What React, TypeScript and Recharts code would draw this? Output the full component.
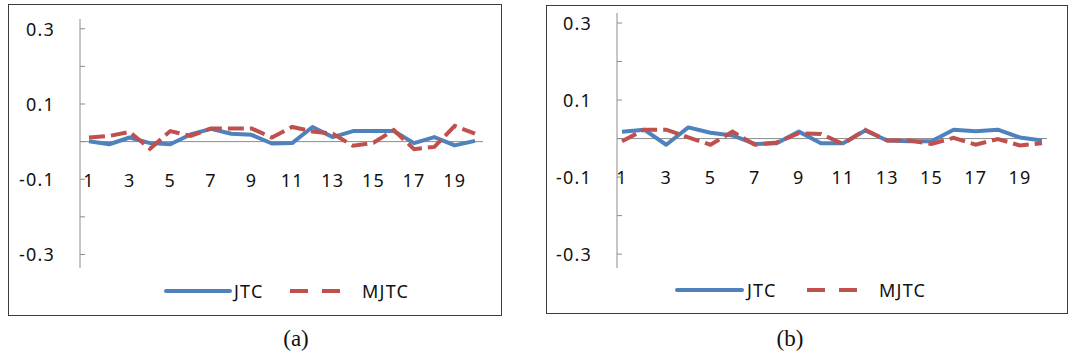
import {
  LineChart,
  Line,
  XAxis,
  YAxis,
  ReferenceLine,
  Legend,
} from "recharts";

// sample index along the x axis
const samples = [
  "1", "2", "3", "4", "5", "6", "7", "8", "9", "10",
  "11", "12", "13", "14", "15", "16", "17", "18", "19", "20",
];

// panel (a)
const jtcA = [
  0.001, -0.007, 0.011, -0.004, -0.007, 0.019, 0.034, 0.021, 0.018, -0.005,
  -0.004, 0.039, 0.012, 0.028, 0.028, 0.028, -0.004, 0.012, -0.01, 0.002,
];
const mjtcA = [
  0.011, 0.015, 0.026, -0.019, 0.028, 0.015, 0.035, 0.035, 0.035, 0.011,
  0.039, 0.027, 0.021, -0.011, -0.003, 0.031, -0.02, -0.014, 0.042, 0.021,
];

// panel (b)
const jtcB = [
  0.018, 0.023, -0.016, 0.029, 0.015, 0.008, -0.014, -0.012, 0.018, -0.012,
  -0.012, 0.021, -0.005, -0.007, -0.007, 0.023, 0.019, 0.023, 0.003, -0.005,
];
const mjtcB = [
  -0.007, 0.023, 0.023, 0.003, -0.016, 0.018, -0.016, -0.01, 0.014, 0.012,
  -0.014, 0.023, -0.005, -0.005, -0.014, 0.002, -0.016, -0.001, -0.018, -0.012,
];

const yTicks = [-0.3, -0.2, -0.1, 0, 0.1, 0.2, 0.3];
const yDomain = [-0.336, 0.326];

const BLUE = "#4F81BD";
const RED = "#C0504D";
const FONT = "'Noto Sans', sans-serif";
const INK = "#111";

type Geo = {
  left: number;
  top: number;
  width: number;
  height: number;
  margin: { top: number; right: number; left: number; bottom: number };
  xPad: { left: number; right: number };
  xAxisH: number;
  labelDrop: number; // how far above the plot bottom the category labels sit
  legend: { line: [number, number]; jtc: number; dash: [number, number]; mjtc: number };
  caption: string;
  captionX: number;
};

const YTick = (props: any) => {
  const { x, y, payload } = props;
  const v = Math.round(payload.value * 10);
  const show = Math.abs(v) % 2 === 1;
  return (
    <g>
      <line x1={x} x2={x + 5} y1={y} y2={y} stroke="#8c8c8c" strokeWidth={1} />
      {show && (
        <text
          x={x - 25}
          y={y}
          textAnchor="end"
          dominantBaseline="central"
          fontFamily={FONT}
          fontSize={18}
          letterSpacing={1.2}
          fill={INK}
        >
          {payload.value.toFixed(1)}
        </text>
      )}
    </g>
  );
};

const makeXTick = (drop: number) => (props: any) => {
  const { x, y, payload } = props;
  return (
    <text
      x={x}
      y={y - drop}
      textAnchor="middle"
      dominantBaseline="central"
      fontFamily={FONT}
      fontSize={18}
      letterSpacing={1.2}
      fill={INK}
    >
      {payload.value}
    </text>
  );
};

const makeLegend = (g: Geo) => () => (
  <svg width={g.width} height={30} style={{ display: "block" }}>
    <line
      x1={g.legend.line[0]}
      x2={g.legend.line[1]}
      y1={15}
      y2={15}
      stroke={BLUE}
      strokeWidth={4}
      strokeLinecap="round"
    />
    <text x={g.legend.jtc} y={15} dominantBaseline="central" fontFamily={FONT} fontSize={18} letterSpacing={1.2} fill={INK}>
      JTC
    </text>
    <line
      x1={g.legend.dash[0]}
      x2={g.legend.dash[1]}
      y1={15}
      y2={15}
      stroke={RED}
      strokeWidth={4}
      strokeDasharray="18 14"
    />
    <text x={g.legend.mjtc} y={15} dominantBaseline="central" fontFamily={FONT} fontSize={18} letterSpacing={1.2} fill={INK}>
      MJTC
    </text>
  </svg>
);

const Panel = ({ jtc, mjtc, g }: { jtc: number[]; mjtc: number[]; g: Geo }) => {
  const data = samples.map((s, i) => ({ sample: s, JTC: jtc[i], MJTC: mjtc[i] }));
  return (
    <>
      <div
        style={{
          position: "absolute",
          left: g.left,
          top: g.top,
          width: g.width,
          height: g.height,
          border: "1px solid #3c3c3c",
          boxSizing: "border-box",
        }}
      >
        <div style={{ position: "absolute", left: -1, top: -1 }}>
          <LineChart width={g.width} height={g.height} data={data} margin={g.margin}>
            <XAxis
              dataKey="sample"
              padding={g.xPad}
              axisLine={false}
              tickLine={false}
              tickSize={0}
              tickMargin={0}
              height={g.xAxisH}
              interval={1}
              tick={makeXTick(g.labelDrop)}
            />
            <YAxis
              width={60}
              domain={yDomain}
              ticks={yTicks}
              allowDataOverflow
              axisLine={{ stroke: "#8c8c8c", strokeWidth: 1 }}
              tickLine={false}
              tickSize={0}
              tickMargin={0}
              interval={0}
              tick={<YTick />}
            />
            <ReferenceLine y={0} stroke="#8c8c8c" strokeWidth={1} />
            <Line
              type="linear"
              dataKey="JTC"
              stroke={BLUE}
              strokeWidth={4}
              dot={false}
              strokeLinejoin="round"
              isAnimationActive={false}
            />
            <Line
              type="linear"
              dataKey="MJTC"
              stroke={RED}
              strokeWidth={4}
              strokeDasharray="16 6"
              dot={false}
              isAnimationActive={false}
            />
            <Legend
              verticalAlign="bottom"
              height={30}
              width={g.width}
              wrapperStyle={{ left: 0 }}
              content={makeLegend(g)}
            />
          </LineChart>
        </div>
      </div>
      <div
        style={{
          position: "absolute",
          left: g.captionX - 40,
          width: 80,
          top: 326,
          textAlign: "center",
          fontFamily: "'Liberation Serif', 'Times New Roman', serif",
          fontSize: 23,
          color: INK,
        }}
      >
        {g.caption}
      </div>
    </>
  );
};

const geoA: Geo = {
  left: 8,
  top: 4,
  width: 494,
  height: 312,
  margin: { top: 15, right: 19, left: 12, bottom: 10 },
  xPad: { left: 9, right: 8 },
  xAxisH: 8,
  labelDrop: 88.5,
  legend: { line: [158, 222], jtc: 226, dash: [282, 334], mjtc: 354 },
  caption: "(a)",
  captionX: 296,
};

const geoB: Geo = {
  left: 546,
  top: 5,
  width: 522,
  height: 309,
  margin: { top: 8, right: 21, left: 11, bottom: 9 },
  xPad: { left: 5, right: 5 },
  xAxisH: 7,
  labelDrop: 91,
  legend: { line: [131, 196], jtc: 201, dash: [261, 312], mjtc: 333 },
  caption: "(b)",
  captionX: 790,
};

export default function App() {
  return (
    <div
      style={{
        position: "absolute",
        left: 0,
        top: 0,
        width: 1070,
        height: 359,
        background: "#fff",
        overflow: "hidden",
      }}
    >
      <Panel jtc={jtcA} mjtc={mjtcA} g={geoA} />
      <Panel jtc={jtcB} mjtc={mjtcB} g={geoB} />
    </div>
  );
}
